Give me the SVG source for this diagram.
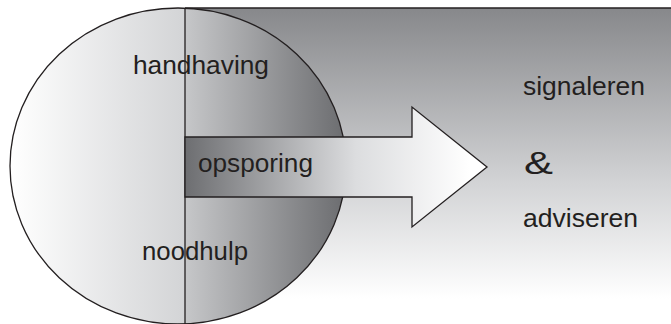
<svg xmlns="http://www.w3.org/2000/svg" width="671" height="324" viewBox="0 0 671 324">
<style>
.lbl{font-family:"Liberation Sans",Arial,sans-serif;font-size:25px;fill:#231f20}
.ln{stroke:#231f20;stroke-width:1.3;fill:none}
</style>
<defs>
<linearGradient id="bg" gradientUnits="userSpaceOnUse" x1="0" y1="8" x2="0" y2="324">
<stop offset="0" stop-color="#87888b"/>
<stop offset="0.55" stop-color="#d2d3d5"/>
<stop offset="0.92" stop-color="#ffffff"/>
</linearGradient>
<linearGradient id="lh" gradientUnits="userSpaceOnUse" x1="10" y1="0" x2="185" y2="0">
<stop offset="0" stop-color="#ffffff"/>
<stop offset="1" stop-color="#d3d4d6"/>
</linearGradient>
<linearGradient id="rh" gradientUnits="userSpaceOnUse" x1="185" y1="0" x2="346" y2="0">
<stop offset="0" stop-color="#c6c7c9"/>
<stop offset="1" stop-color="#6b6c6f"/>
</linearGradient>
<linearGradient id="ar" gradientUnits="userSpaceOnUse" x1="185" y1="0" x2="470" y2="0">
<stop offset="0" stop-color="#6d6e71"/>
<stop offset="0.6" stop-color="#dcdddf"/>
<stop offset="1" stop-color="#ffffff"/>
</linearGradient>
<clipPath id="leftc"><rect x="0" y="0" width="185" height="324"/></clipPath>
<clipPath id="rightc"><rect x="185" y="0" width="486" height="324"/></clipPath>
</defs>
<g id="background">
<rect x="185" y="8" width="490" height="330" fill="url(#bg)"/>
<line class="ln" x1="185" y1="8" x2="671" y2="8"/>
</g>
<g id="circle">
<ellipse cx="178" cy="166" rx="168" ry="158" fill="url(#lh)" clip-path="url(#leftc)"/>
<ellipse cx="178" cy="166" rx="168" ry="158" fill="url(#rh)" clip-path="url(#rightc)"/>
<ellipse class="ln" cx="178" cy="166" rx="168" ry="158"/>
<line class="ln" x1="185" y1="8" x2="185" y2="324"/>
</g>
<g id="connectors">
<polygon points="185,137 412,137 412,107 487,167 412,227 412,197 185,197" fill="url(#ar)" stroke="#231f20" stroke-width="1.3" stroke-linejoin="miter"/>
</g>
<g id="handhaving"><text class="lbl" x="133" y="74" textLength="136" lengthAdjust="spacingAndGlyphs">handhaving</text></g>
<g id="opsporing"><text class="lbl" x="198" y="172" textLength="115" lengthAdjust="spacingAndGlyphs">opsporing</text></g>
<g id="noodhulp"><text class="lbl" x="142" y="260" textLength="106" lengthAdjust="spacingAndGlyphs">noodhulp</text></g>
<g id="signaleren"><text class="lbl" x="523" y="95" textLength="122" lengthAdjust="spacingAndGlyphs">signaleren</text></g>
<g id="amp"><text class="lbl" x="524" y="174" style="font-size:32px" textLength="29" lengthAdjust="spacingAndGlyphs">&amp;</text></g>
<g id="adviseren"><text class="lbl" x="523" y="227" textLength="115" lengthAdjust="spacingAndGlyphs">adviseren</text></g>
</svg>
